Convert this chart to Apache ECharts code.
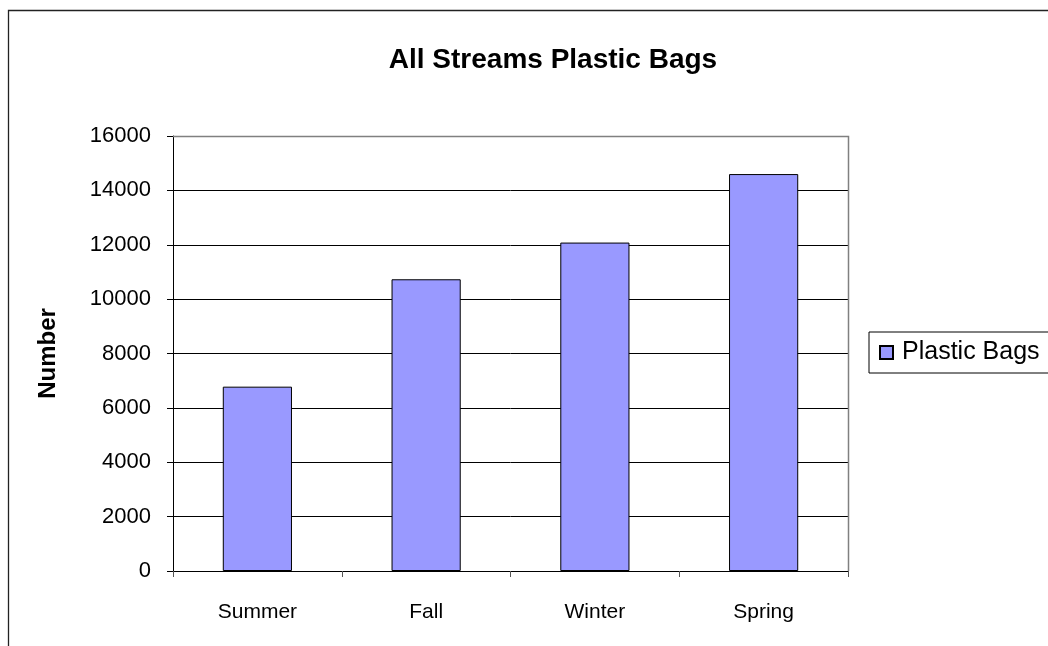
<!DOCTYPE html>
<html>
<head>
<meta charset="utf-8">
<script src="https://cdn.jsdelivr.net/npm/echarts@6/dist/echarts.min.js"></script>
<style>
  html, body { margin: 0; padding: 0; background: #fff; }
  #chart { width: 1048px; height: 646px; }
</style>
</head>
<body>
<div id="chart"></div>
<script>
// Seasonal plastic bag counts across all streams
const seasons = ['Summer', 'Fall', 'Winter', 'Spring'];
const plasticBags = [6780, 10730, 12080, 14600];
const seriesName = 'Plastic Bags';
const chartTitle = 'All Streams Plastic Bags';
const yAxisName = 'Number';

const chart = echarts.init(document.getElementById('chart'), null, { renderer: 'canvas' });
const font = 'Arial, "Liberation Sans", sans-serif';

chart.setOption({
  animation: false,
  backgroundColor: '#fff',
  textStyle: { fontFamily: font },
  title: {
    text: chartTitle,
    left: 548,
    top: 41,
    textAlign: 'center',
    textStyle: { fontFamily: font, fontSize: 28, fontWeight: 'bold', color: '#000' }
  },
  legend: {
    data: [seriesName],
    left: 869,
    top: 332,
    orient: 'vertical',
    padding: [8, 20, 8, 10],
    borderColor: '#000',
    borderWidth: 1,
    itemWidth: 13,
    itemHeight: 13,
    itemGap: 0,
    icon: 'rect',
    textStyle: { fontFamily: font, fontSize: 25, color: '#000', padding: [0, 0, 0, 4] }
  },
  grid: { left: 173, right: 200, top: 136, bottom: 75 },
  xAxis: {
    type: 'category',
    data: seasons,
    axisLine: { lineStyle: { color: '#000', width: 1 } },
    axisTick: { show: true, length: 6, alignWithLabel: false, lineStyle: { color: '#555' } },
    axisLabel: { margin: 31, fontSize: 21, color: '#000', fontFamily: font },
    splitLine: { show: false }
  },
  yAxis: {
    type: 'value',
    min: 0,
    max: 16000,
    interval: 2000,
    name: yAxisName,
    nameLocation: 'middle',
    nameGap: 113,
    nameTextStyle: { fontFamily: font, fontSize: 24, fontWeight: 'bold', color: '#000' },
    axisLine: { show: true, lineStyle: { color: '#000', width: 1 } },
    axisTick: { show: true, length: 6, lineStyle: { color: '#000' } },
    axisLabel: {
      margin: 22, fontSize: 22, color: '#000', fontFamily: font,
      formatter: (v) => String(v)
    },
    splitLine: { show: true, lineStyle: { color: '#000', width: 1 } }
  },
  series: [{
    name: seriesName,
    type: 'bar',
    data: plasticBags,
    barWidth: '41%',
    itemStyle: { color: '#9999FF', borderColor: '#000', borderWidth: 1 }
  }],
  graphic: [
    // outer chart frame, running past the right and bottom edges
    { type: 'rect', shape: { x: 8.5, y: 10.5, width: 1100, height: 700 },
      style: { fill: null, stroke: '#222', lineWidth: 1.3 }, silent: true, z: 0 },
    // plot area frame on the top and right sides
    { type: 'polyline', shape: { points: [[173, 136.5], [848.5, 136.5], [848.5, 571]] },
      style: { fill: null, stroke: '#808080', lineWidth: 1.5 }, silent: true, z: 5 }
  ]
});
</script>
</body>
</html>
